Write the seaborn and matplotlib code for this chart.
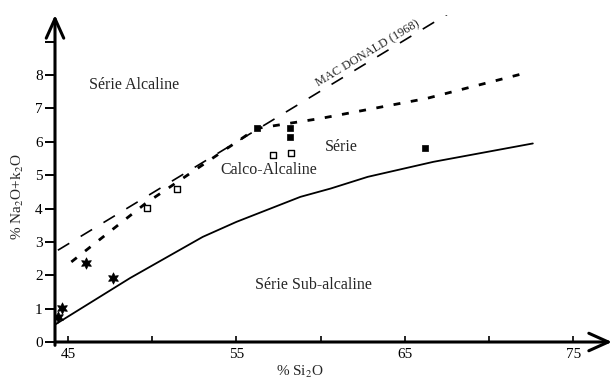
import matplotlib
matplotlib.use("Agg")
import matplotlib.pyplot as plt
import seaborn as sns
import pandas as pd

# ---- data ----
solid_x = [44.1, 48.7, 53.0, 55.0, 58.8, 60.6, 62.8, 66.7, 72.6]
solid_y = [0.48, 1.92, 3.15, 3.6, 4.35, 4.6, 4.95, 5.4, 5.95]

mac_x = [44.4, 68.1]
mac_y = [2.75, 10.0]

short_x = [45.2, 49.6, 56.2, 60.0, 66.3, 72.3]
short_y = [2.4, 4.15, 6.4, 6.7, 7.3, 8.08]

star_x = [44.4, 44.65, 46.1, 47.7]
star_y = [0.75, 1.02, 2.37, 1.92]

open_x = [49.7, 51.5, 57.2, 58.25]
open_y = [4.02, 4.6, 5.6, 5.65]

fill_x = [56.2, 58.2, 58.2, 66.2]
fill_y = [6.4, 6.15, 6.4, 5.8]

xticks = [45, 50, 55, 60, 65, 70, 75]
xtick_labels = ["45", "", "55", "", "65", "", "75"]
yticks = [0, 1, 2, 3, 4, 5, 6, 7, 8, 9]
ytick_labels = ["0", "1", "2", "3", "4", "5", "6", "7", "8", ""]

sns.set_style("white")
plt.rcParams['font.family'] = ['Liberation Serif', 'DejaVu Serif']
plt.rcParams['mathtext.fontset'] = 'stix'

fig = plt.figure(figsize=(6.14, 3.85), dpi=100)
ax = fig.add_axes([55/614, 43/385, (612-55)/614, (342-15)/385])
XMIN, XMAX, YMIN, YMAX = 44.23, 77.3, 0, 9.8
ax.set_xlim(XMIN, XMAX)
ax.set_ylim(YMIN, YMAX)

sns.lineplot(x=solid_x, y=solid_y, ax=ax, color="black", lw=1.3, estimator=None, sort=False)
sns.lineplot(x=mac_x, y=mac_y, ax=ax, color="black", lw=1.2, estimator=None, sort=False,
             linestyle=(0, (8, 8)))
sns.lineplot(x=short_x, y=short_y, ax=ax, color="black", lw=2.0, estimator=None, sort=False,
             linestyle=(0, (2.5, 3.8)))

sns.scatterplot(x=star_x, y=star_y, ax=ax, marker=(6, 1, 0), s=65, color="black",
                edgecolor="black", linewidth=0.6, zorder=5)
sns.scatterplot(x=open_x, y=open_y, ax=ax, marker="s", s=16, facecolor="white",
                edgecolor="black", linewidth=1.0, zorder=5)
sns.scatterplot(x=fill_x, y=fill_y, ax=ax, marker="s", s=16, color="black",
                edgecolor="black", linewidth=0.5, zorder=5)

for s in ax.spines.values():
    s.set_visible(False)

# axes with arrow heads
arrow = dict(arrowstyle="->,head_length=1.0,head_width=0.45", lw=2.2, color="black",
             mutation_scale=14, shrinkA=0, shrinkB=0)
ax.annotate("", xy=(XMAX, 0), xytext=(XMIN, 0), xycoords="data", arrowprops=arrow,
            annotation_clip=False)
ax.annotate("", xy=(XMIN, YMAX), xytext=(XMIN, -0.1), xycoords="data", arrowprops=arrow,
            annotation_clip=False)

ax.set_xticks(xticks)
ax.set_xticklabels(xtick_labels)
ax.set_yticks(yticks)
ax.set_yticklabels(ytick_labels)
ax.tick_params(axis="x", direction="in", length=4, width=1.2, labelsize=11, pad=4,
               bottom=True, colors="black")
ax.tick_params(axis="y", direction="out", length=7, width=1.4, labelsize=11, pad=2,
               left=True, colors="black")

ax.set_xlabel("% Si$_2$O", fontsize=11)
ax.set_ylabel("% Na$_2$O+k$_2$O", fontsize=11)
ax.xaxis.set_label_coords((300 - 55) / 557, (342 - 372) / 327)
ax.yaxis.set_label_coords((18 - 55) / 557, (342 - 197) / 327)
ax.xaxis.label.set_va("center")
ax.yaxis.label.set_va("center")

ax.text(48.9, 7.7, "Série Alcaline", fontsize=11.5, ha="center", va="center")
ax.text(56.9, 5.15, "Calco-Alcaline", fontsize=11.5, ha="center", va="center")
ax.text(61.2, 5.85, "Série", fontsize=11.5, ha="center", va="center")
ax.text(59.6, 1.7, "Série Sub-alcaline", fontsize=11.5, ha="center", va="center")
ax.text(62.8, 8.65, "MAC DONALD (1968)", fontsize=8.8, ha="center", va="center",
        rotation=31, rotation_mode="anchor")

fig.savefig("out.png", dpi=100)
